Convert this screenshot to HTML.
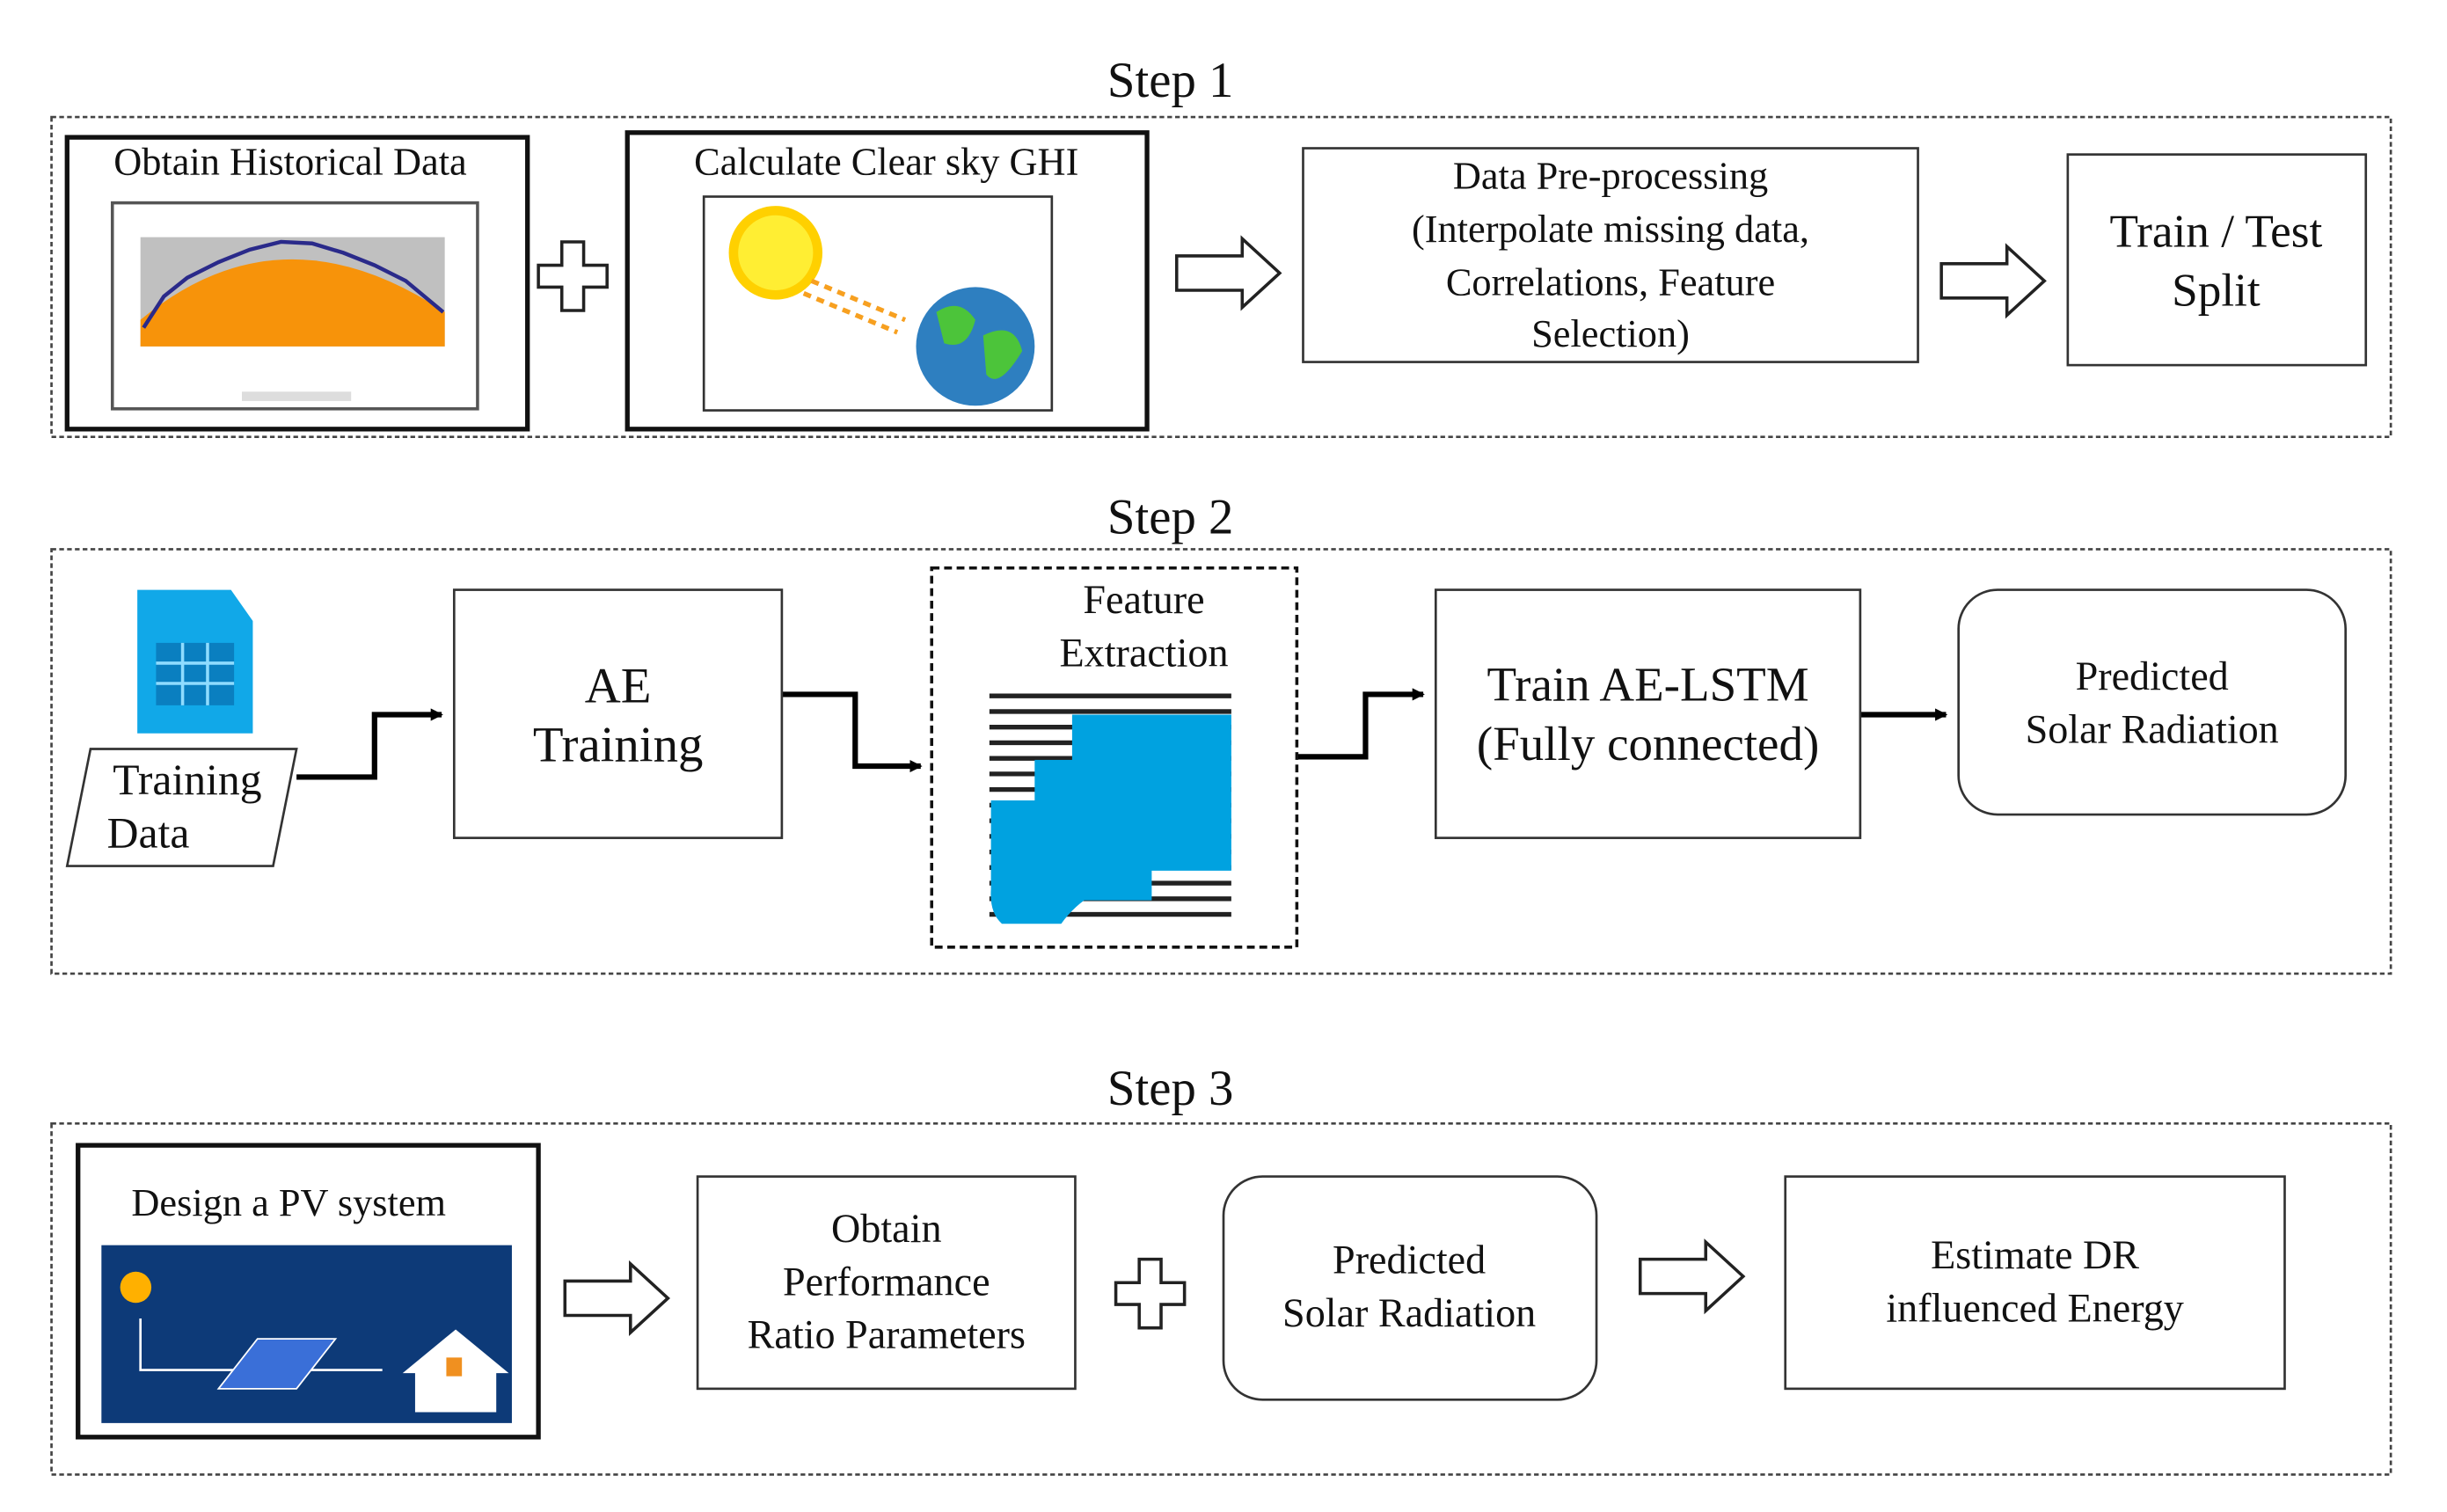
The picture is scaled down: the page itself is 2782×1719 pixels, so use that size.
<!DOCTYPE html>
<html><head><meta charset="utf-8"><style>
html,body{margin:0;padding:0;background:#fff;}
svg{display:block;}
text{font-family:"Liberation Serif",serif;fill:#111;}
</style></head><body>
<svg width="2782" height="1719" viewBox="0 0 1568 969" preserveAspectRatio="none" xmlns="http://www.w3.org/2000/svg">
<defs>
<marker id="ah" markerWidth="8" markerHeight="8" refX="7" refY="4" orient="auto" markerUnits="userSpaceOnUse"><path d="M0,0 L8,4 L0,8 z" fill="#000"/></marker>
<g id="oarrow"><path d="M0,-11 L42,-11 L42,-22 L66,0 L42,22 L42,11 L0,11 z" fill="#fff" stroke="#222" stroke-width="2"/></g>
<g id="plus"><path d="M-7,-22 L7,-22 L7,-7 L22,-7 L22,7 L7,7 L7,22 L-7,22 L-7,7 L-22,7 L-22,-7 L-7,-7 z" fill="#fff" stroke="#222" stroke-width="2"/></g>
</defs>
<g font-size="32" text-anchor="middle">
<text x="750" y="62">Step 1</text>
<text x="750" y="342">Step 2</text>
<text x="750" y="708">Step 3</text>
</g>
<g fill="none" stroke="#444" stroke-width="1.5" stroke-dasharray="3,2">
<rect x="33" y="75" width="1499" height="205"/>
<rect x="33" y="352" width="1499" height="272"/>
<rect x="33" y="720" width="1499" height="225"/>
</g>
<!-- Step 1 -->
<rect x="43" y="88" width="295" height="187" fill="#fff" stroke="#111" stroke-width="3"/>
<text x="186" y="112" font-size="25" text-anchor="middle">Obtain Historical Data</text>
<rect x="72" y="130" width="234" height="132" fill="#fff" stroke="#555" stroke-width="2"/>
<rect x="90" y="152" width="195" height="70" fill="#c0c0c0"/>
<path d="M90,222 L90,205 Q180,130 285,200 L285,222 z" fill="#f7930a"/>
<polyline points="92,210 105,190 120,178 140,168 160,160 180,155 200,156 220,162 240,170 260,180 284,200" fill="none" stroke="#2a2a8a" stroke-width="2.5"/>
<rect x="155" y="251" width="70" height="6" fill="#ddd"/>
<use href="#plus" x="367" y="177"/>
<rect x="402" y="85" width="333" height="190" fill="#fff" stroke="#111" stroke-width="3"/>
<text x="568" y="112" font-size="25" text-anchor="middle">Calculate Clear sky GHI</text>
<rect x="451" y="126" width="223" height="137" fill="#fff" stroke="#333" stroke-width="1.5"/>
<circle cx="497" cy="162" r="27" fill="#ffee33" stroke="#ffd000" stroke-width="6"/>
<path d="M520,180 L580,205 M515,188 L575,213" stroke="#f7a020" stroke-width="3" stroke-dasharray="5,4"/>
<circle cx="625" cy="222" r="38" fill="#2e7fc0"/>
<path d="M600,200 Q615,190 625,205 Q620,225 605,220 z M630,215 Q650,205 655,225 Q640,250 632,240 z" fill="#4cc43a"/>
<use href="#oarrow" x="754" y="175"/>
<rect x="835" y="95" width="394" height="137" fill="#fff" stroke="#333" stroke-width="1.5"/>
<g font-size="25" text-anchor="middle">
<text x="1032" y="121">Data Pre-processing</text>
<text x="1032" y="155">(Interpolate missing data,</text>
<text x="1032" y="189">Correlations, Feature</text>
<text x="1032" y="222">Selection)</text>
</g>
<use href="#oarrow" x="1244" y="180"/>
<rect x="1325" y="99" width="191" height="135" fill="#fff" stroke="#333" stroke-width="1.5"/>
<g font-size="30" text-anchor="middle">
<text x="1420" y="158">Train / Test</text>
<text x="1420" y="196">Split</text>
</g>
<!-- Step 2 -->
<path d="M88,378 L148,378 L162,398 L162,470 L88,470 z" fill="#11a8e8"/>
<rect x="100" y="412" width="50" height="40" fill="#0a7fc0"/>
<path d="M100,425 H150 M100,438 H150 M117,412 V452 M133,412 V452" stroke="#8fdcff" stroke-width="2"/>
<path d="M58,480 L190,480 L175,555 L43,555 z" fill="#fff" stroke="#333" stroke-width="1.5"/>
<g font-size="28" text-anchor="middle">
<text x="120" y="509">Training</text>
<text x="95" y="543">Data</text>
</g>
<g fill="none" stroke="#000" stroke-width="3.5">
<polyline points="190,498 240,498 240,458 283,458" marker-end="url(#ah)"/>
<polyline points="501,445 548,445 548,491 590,491" marker-end="url(#ah)"/>
<polyline points="831,485 875,485 875,445 912,445" marker-end="url(#ah)"/>
<polyline points="1192,458 1247,458" marker-end="url(#ah)"/>
</g>
<rect x="291" y="378" width="210" height="159" fill="#fff" stroke="#333" stroke-width="1.5"/>
<g font-size="32" text-anchor="middle">
<text x="396" y="450">AE</text>
<text x="396" y="488">Training</text>
</g>
<rect x="597" y="364" width="234" height="243" fill="#fff" stroke="#111" stroke-width="2" stroke-dasharray="5,3"/>
<g font-size="26" text-anchor="middle">
<text x="733" y="393">Feature</text>
<text x="733" y="427">Extraction</text>
</g>
<g stroke="#222" stroke-width="3">
<path d="M634,446 H789 M634,456 H789 M634,466 H789 M634,476 H789 M634,486 H789 M634,496 H789 M634,506 H789 M634,516 H789 M634,526 H789 M634,536 H789 M634,546 H789 M634,556 H789 M634,566 H789 M634,576 H789 M634,586 H789"/>
</g>
<rect x="687" y="458" width="102" height="100" fill="#00a2e0"/>
<rect x="663" y="487" width="75" height="90" fill="#00a2e0"/>
<path d="M635,513 L706,513 L706,570 Q690,578 680,592 L642,592 Q634,585 635,570 z" fill="#00a2e0"/>
<rect x="920" y="378" width="272" height="159" fill="#fff" stroke="#333" stroke-width="1.5"/>
<g font-size="31" text-anchor="middle">
<text x="1056" y="449">Train AE-LSTM</text>
<text x="1056" y="487">(Fully connected)</text>
</g>
<rect x="1255" y="378" width="248" height="144" rx="25" fill="#fff" stroke="#333" stroke-width="1.5"/>
<g font-size="26" text-anchor="middle">
<text x="1379" y="442">Predicted</text>
<text x="1379" y="476">Solar Radiation</text>
</g>
<!-- Step 3 -->
<rect x="50" y="734" width="295" height="187" fill="#fff" stroke="#111" stroke-width="3"/>
<text x="185" y="779" font-size="25" text-anchor="middle">Design a PV system</text>
<rect x="65" y="798" width="263" height="114" fill="#0d3a78"/>
<circle cx="87" cy="825" r="10" fill="#ffb000"/>
<path d="M90,845 V878 H245" fill="none" stroke="#fff" stroke-width="1.5"/>
<path d="M140,890 L165,858 L215,858 L190,890 z" fill="#3a6fd8" stroke="#fff" stroke-width="1"/>
<path d="M258,880 L292,852 L326,880 L318,880 L318,905 L266,905 L266,880 z" fill="#fff"/>
<rect x="286" y="870" width="10" height="12" fill="#f09020"/>
<use href="#oarrow" x="362" y="832"/>
<rect x="447" y="754" width="242" height="136" fill="#fff" stroke="#333" stroke-width="1.5"/>
<g font-size="26" text-anchor="middle">
<text x="568" y="796">Obtain</text>
<text x="568" y="830">Performance</text>
<text x="568" y="864">Ratio Parameters</text>
</g>
<use href="#plus" x="737" y="829"/>
<rect x="784" y="754" width="239" height="143" rx="25" fill="#fff" stroke="#333" stroke-width="1.5"/>
<g font-size="26" text-anchor="middle">
<text x="903" y="816">Predicted</text>
<text x="903" y="850">Solar Radiation</text>
</g>
<use href="#oarrow" x="1051" y="818"/>
<rect x="1144" y="754" width="320" height="136" fill="#fff" stroke="#333" stroke-width="1.5"/>
<g font-size="26" text-anchor="middle">
<text x="1304" y="813">Estimate DR</text>
<text x="1304" y="847">influenced Energy</text>
</g>
</svg>
</body></html>
